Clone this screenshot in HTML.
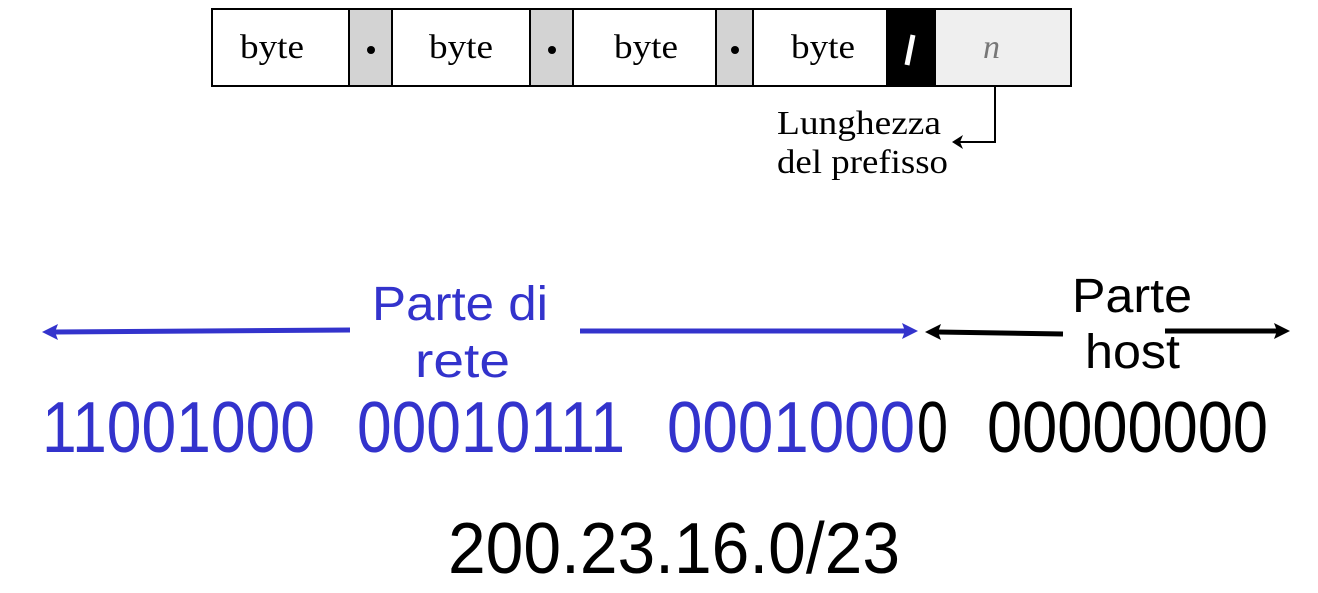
<!DOCTYPE html>
<html><head><meta charset="utf-8"><style>
html,body{margin:0;padding:0;background:#fff;width:1318px;height:593px;overflow:hidden}
</style></head><body>
<svg width="1318" height="593" xmlns="http://www.w3.org/2000/svg">
<g stroke="#000" stroke-width="2">
<rect x="212" y="9" width="137" height="77" fill="#fff"/>
<rect x="349" y="9" width="43" height="77" fill="#d3d3d3"/>
<rect x="392" y="9" width="138" height="77" fill="#fff"/>
<rect x="530" y="9" width="43" height="77" fill="#d3d3d3"/>
<rect x="573" y="9" width="143" height="77" fill="#fff"/>
<rect x="716" y="9" width="37" height="77" fill="#d3d3d3"/>
<rect x="753" y="9" width="134" height="77" fill="#fff"/>
<rect x="887" y="9" width="48" height="77" fill="#000"/>
<rect x="935" y="9" width="136" height="77" fill="#efefef"/>
</g>
<g font-family="Liberation Serif, serif" font-size="34" fill="#000">
<text x="240" y="58" textLength="64" lengthAdjust="spacingAndGlyphs">byte</text>
<text x="429" y="58" textLength="64" lengthAdjust="spacingAndGlyphs">byte</text>
<text x="614" y="58" textLength="64" lengthAdjust="spacingAndGlyphs">byte</text>
<text x="791" y="58" textLength="64" lengthAdjust="spacingAndGlyphs">byte</text>
<text x="777" y="134" textLength="164" lengthAdjust="spacingAndGlyphs">Lunghezza</text>
<text x="777" y="173" textLength="171" lengthAdjust="spacingAndGlyphs">del prefisso</text>
<text x="983" y="58" font-style="italic" fill="#777">n</text>
</g>
<circle cx="371" cy="50" r="4" fill="#000"/>
<circle cx="552" cy="50" r="4" fill="#000"/>
<circle cx="735" cy="50" r="4" fill="#000"/>
<line x1="913" y1="35" x2="907" y2="65" stroke="#fff" stroke-width="5"/>
<polyline points="995,86 995,142 960,142" fill="none" stroke="#000" stroke-width="2"/>
<polygon points="952,142 963,135 960,142 963,149" fill="#000"/>
<g stroke-width="5">
<line x1="350" y1="330" x2="55" y2="332" stroke="#3333cc"/>
<polygon points="42,332 58,324 55,332 58,340" fill="#3333cc"/>
<line x1="580" y1="331" x2="905" y2="331" stroke="#3333cc"/>
<polygon points="918,331 902,323 905,331 902,339" fill="#3333cc"/>
<line x1="1063" y1="334" x2="938" y2="332" stroke="#000"/>
<polygon points="925,332 941,324 938,332 941,340" fill="#000"/>
<line x1="1165" y1="331" x2="1277" y2="331" stroke="#000"/>
<polygon points="1290,331 1274,323 1277,331 1274,339" fill="#000"/>
</g>
<g font-family="Liberation Sans, sans-serif" font-size="48">
<text x="372" y="320" fill="#3333cc" textLength="176" lengthAdjust="spacingAndGlyphs">Parte di</text>
<text x="415" y="377" fill="#3333cc" textLength="95" lengthAdjust="spacingAndGlyphs">rete</text>
<text x="1072" y="312" fill="#000" textLength="120" lengthAdjust="spacingAndGlyphs">Parte</text>
<text x="1085" y="368" fill="#000" textLength="95" lengthAdjust="spacingAndGlyphs">host</text>
</g>
<g font-family="Liberation Sans, sans-serif" font-size="72">
<text x="42" y="452" fill="#3333cc" textLength="273" lengthAdjust="spacingAndGlyphs">11001000</text>
<text x="357" y="452" fill="#3333cc" textLength="268" lengthAdjust="spacingAndGlyphs">00010111</text>
<text x="667" y="452" fill="#3333cc" textLength="248" lengthAdjust="spacingAndGlyphs">0001000</text>
<text x="917" y="452" fill="#000" textLength="31" lengthAdjust="spacingAndGlyphs">0</text>
<text x="987" y="452" fill="#000" textLength="281" lengthAdjust="spacingAndGlyphs">00000000</text>
<text x="448" y="573" fill="#000" textLength="452" lengthAdjust="spacingAndGlyphs">200.23.16.0/23</text>
</g>
</svg>
</body></html>
